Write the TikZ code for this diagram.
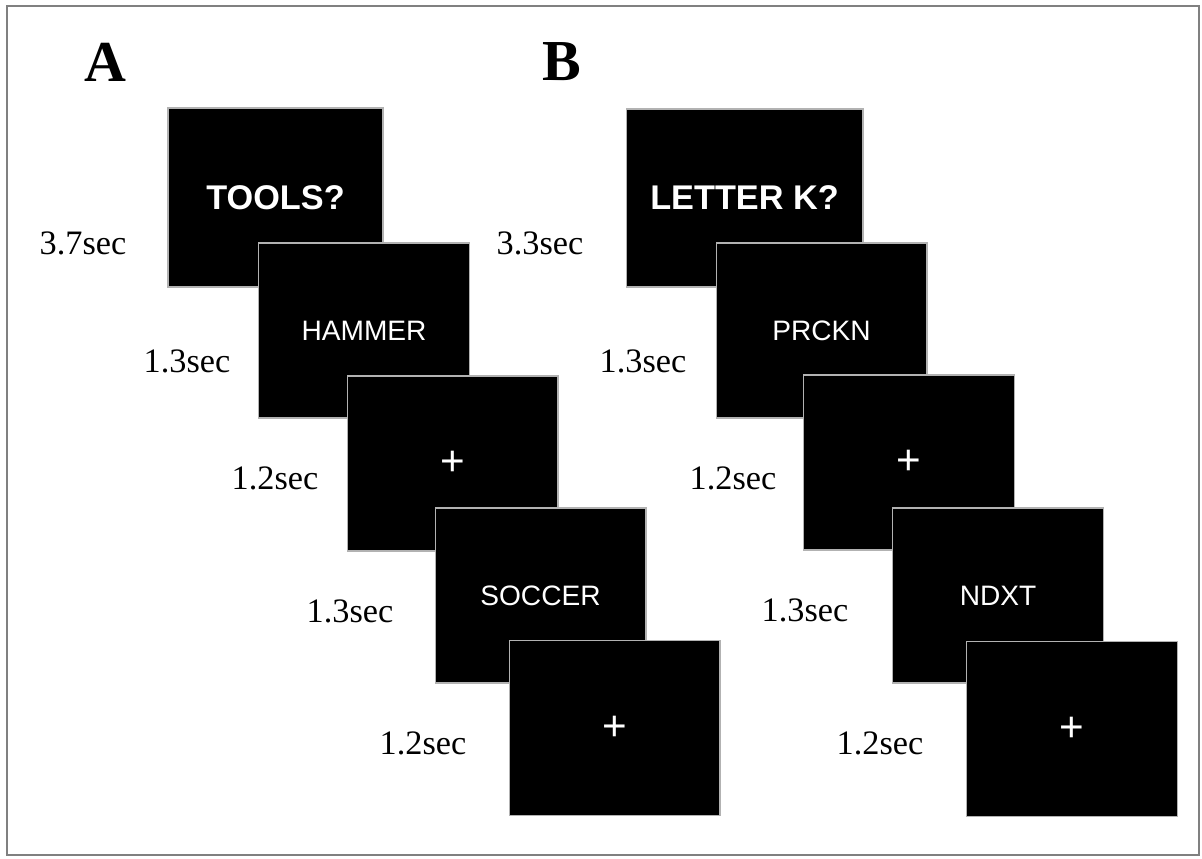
\documentclass[tikz,border=0pt]{standalone}
\usepackage{fontspec}
\setmainfont{Liberation Serif}
\setsansfont{Liberation Sans}
\usepackage{tikz}
\usetikzlibrary{positioning}

\begin{document}
\begin{tikzpicture}[
    x=0.02cm, y=-0.02cm,
    scr/.style={rectangle, fill=black, draw=gray!60, line width=0.6pt, minimum width=4.22cm, minimum height=3.5cm, inner sep=0pt, text=white, font=\sffamily\fontsize{16}{18}\selectfont},
    cue/.style={scr, font=\sffamily\bfseries\fontsize{19.5}{22}\selectfont},
    fix/.style={scr, font=\sffamily\fontsize{24}{26}\selectfont},
    dur/.style={inner sep=0pt, font=\fontsize{19.5}{22}\selectfont},
    panel/.style={inner sep=0pt, font=\bfseries\fontsize{33}{36}\selectfont},
]
    \useasboundingbox (0,0) rectangle (1202,858);
    \draw[gray, line width=1.1pt] (7,6) rectangle (1199,855);

    % panel A
    \node[panel] (la) at (105,62) {A};
    \node[cue, minimum width=4.3cm, minimum height=3.58cm] (a1) at (275.5,197.5) {TOOLS?};
    \node[scr] (a2) at (364,330.5) {HAMMER};
    \node[fix] (a3) at (452.5,463.5) {+};
    \node[scr] (a4) at (540.5,595.5) {SOCCER};
    \node[fix] (a5) at (614.5,728) {+};

    \node[dur] (ta1) at (83,243) {3.7sec};
    \node[dur] (ta2) at (187,361) {1.3sec};
    \node[dur] (ta3) at (275,478) {1.2sec};
    \node[dur] (ta4) at (350,611) {1.3sec};
    \node[dur] (ta5) at (423,743) {1.2sec};

    % panel B
    \node[panel] (lb) at (562,62) {B};
    \node[cue, minimum width=4.74cm, minimum height=3.56cm] (b1) at (744.5,198) {LETTER K?};
    \node[scr] (b2) at (821.5,330.5) {PRCKN};
    \node[fix] (b3) at (909,462.5) {+};
    \node[scr] (b4) at (998,595.5) {NDXT};
    \node[fix] (b5) at (1072,729) {+};

    \node[dur] (tb1) at (540,243) {3.3sec};
    \node[dur] (tb2) at (643,361) {1.3sec};
    \node[dur] (tb3) at (733,478) {1.2sec};
    \node[dur] (tb4) at (805,610) {1.3sec};
    \node[dur] (tb5) at (880,743) {1.2sec};
\end{tikzpicture}
\end{document}
